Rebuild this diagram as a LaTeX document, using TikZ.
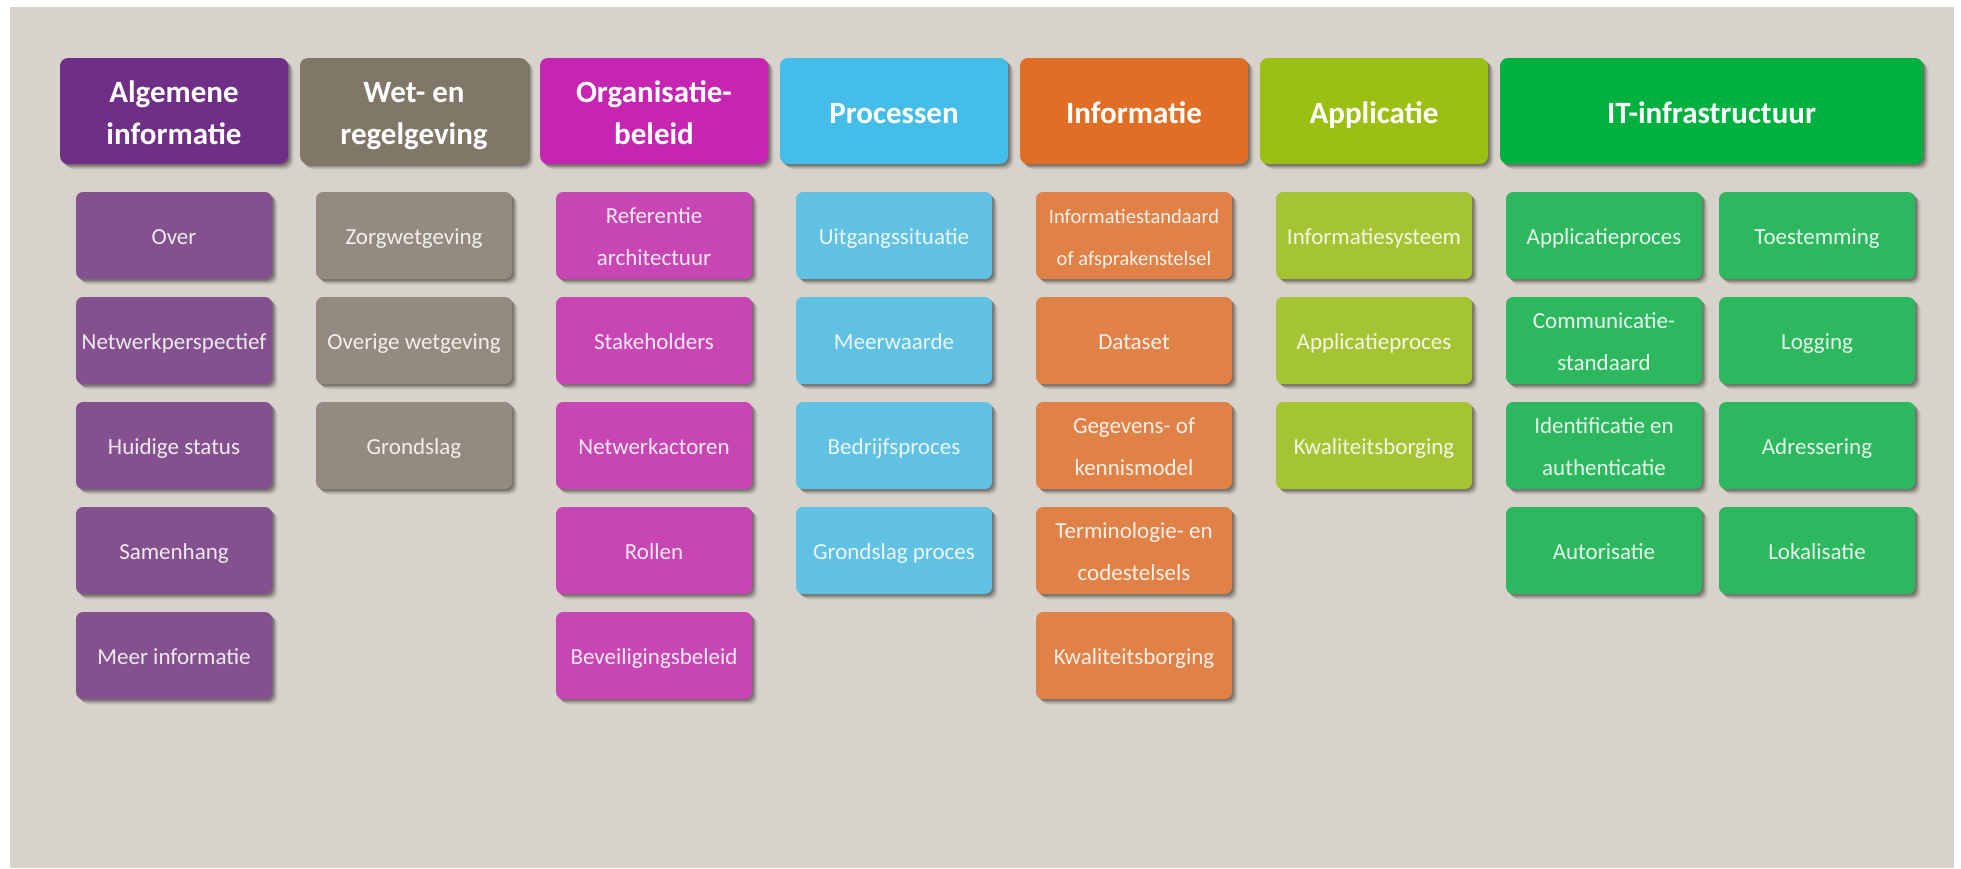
\documentclass[tikz,border=0pt]{standalone}
\usepackage{fontspec}
\setmainfont{Carlito}
\usetikzlibrary{shadows}
\definecolor{bg}{HTML}{D7D2CC}
\definecolor{hA}{HTML}{702F87}\definecolor{sA}{HTML}{84518F}
\definecolor{hB}{HTML}{817769}\definecolor{sB}{HTML}{948A7F}
\definecolor{hC}{HTML}{C625B1}\definecolor{sC}{HTML}{C846B4}
\definecolor{hD}{HTML}{44BEE9}\definecolor{sD}{HTML}{60C1E3}
\definecolor{hE}{HTML}{E06F25}\definecolor{sE}{HTML}{E08247}
\definecolor{hF}{HTML}{9BBF12}\definecolor{sF}{HTML}{A5C434}
\definecolor{hG}{HTML}{00B13F}\definecolor{sG}{HTML}{2DB85F}
\definecolor{shd}{HTML}{3A3530}
\newcommand\substrut{\rule[-6pt]{0pt}{30pt}}
\newcommand\hdrstrut{\rule[-8pt]{0pt}{40pt}}
\begin{document}
\begin{tikzpicture}[x=1pt,y=-1pt,
  softshadow/.style={
    general shadow={shadow xshift=1.5pt,shadow yshift=-1.5pt,fill=shd,opacity=.3},
    general shadow={shadow xshift=3pt,shadow yshift=-3pt,fill=shd,opacity=.28},
    general shadow={shadow xshift=4.5pt,shadow yshift=-4.5pt,fill=shd,opacity=.15},
    general shadow={shadow xshift=6pt,shadow yshift=-5.5pt,fill=shd,opacity=.07}},
  hdr/.style={softshadow,rounded corners=8pt,minimum width=228pt,minimum height=106pt,
    inner sep=0pt,align=center,text=white,font=\fontsize{31}{42}\selectfont\bfseries},
  sub/.style={softshadow,rounded corners=7pt,minimum width=196pt,minimum height=87pt,
    inner sep=0pt,align=center,text=white,text opacity=.88,font=\fontsize{23}{42}\selectfont}]
\useasboundingbox (0,0) rectangle (1961,868);
\fill[white] (0,0) rectangle (1961,868);
\fill[bg] (10,7) rectangle (1954,868);
% headers
\node[hdr,fill=hA] (hA) at (174,111) {\hdrstrut Algemene\\\hdrstrut informatie};
\node[hdr,fill=hB] (hB) at (414,111) {\hdrstrut Wet- en\\\hdrstrut regelgeving};
\node[hdr,fill=hC] (hC) at (654,111) {\hdrstrut Organisatie-\\\hdrstrut beleid};
\node[hdr,fill=hD] (hD) at (894,111) {\hdrstrut Processen};
\node[hdr,fill=hE] (hE) at (1134,111) {\hdrstrut Informatie};
\node[hdr,fill=hF] (hF) at (1374,111) {\hdrstrut Applicatie};
\node[hdr,fill=hG,minimum width=423pt] (hG) at (1711.5,111) {\hdrstrut IT-infrastructuur};
% column A
\node[sub,fill=sA] (a1) at (174,235.5) {\substrut Over};
\node[sub,fill=sA] (a2) at (174,340.5) {\substrut Netwerkperspectief};
\node[sub,fill=sA] (a3) at (174,445.5) {\substrut Huidige status};
\node[sub,fill=sA] (a4) at (174,550.5) {\substrut Samenhang};
\node[sub,fill=sA] (a5) at (174,655.5) {\substrut Meer informatie};
% column B
\node[sub,fill=sB] (b1) at (414,235.5) {\substrut Zorgwetgeving};
\node[sub,fill=sB] (b2) at (414,340.5) {\substrut Overige wetgeving};
\node[sub,fill=sB] (b3) at (414,445.5) {\substrut Grondslag};
% column C
\node[sub,fill=sC] (c1) at (654,235.5) {\substrut Referentie\\\substrut architectuur};
\node[sub,fill=sC] (c2) at (654,340.5) {\substrut Stakeholders};
\node[sub,fill=sC] (c3) at (654,445.5) {\substrut Netwerkactoren};
\node[sub,fill=sC] (c4) at (654,550.5) {\substrut Rollen};
\node[sub,fill=sC] (c5) at (654,655.5) {\substrut Beveiligingsbeleid};
% column D
\node[sub,fill=sD] (d1) at (894,235.5) {\substrut Uitgangssituatie};
\node[sub,fill=sD] (d2) at (894,340.5) {\substrut Meerwaarde};
\node[sub,fill=sD] (d3) at (894,445.5) {\substrut Bedrijfsproces};
\node[sub,fill=sD] (d4) at (894,550.5) {\substrut Grondslag proces};
% column E
\node[sub,fill=sE,font=\fontsize{20.5}{42}\selectfont] (e1) at (1134,235.5) {\substrut Informatiestandaard\\\substrut of afsprakenstelsel};
\node[sub,fill=sE] (e2) at (1134,340.5) {\substrut Dataset};
\node[sub,fill=sE] (e3) at (1134,445.5) {\substrut Gegevens- of\\\substrut kennismodel};
\node[sub,fill=sE] (e4) at (1134,550.5) {\substrut Terminologie- en\\\substrut codestelsels};
\node[sub,fill=sE] (e5) at (1134,655.5) {\substrut Kwaliteitsborging};
% column F
\node[sub,fill=sF] (f1) at (1374,235.5) {\substrut Informatiesysteem};
\node[sub,fill=sF] (f2) at (1374,340.5) {\substrut Applicatieproces};
\node[sub,fill=sF] (f3) at (1374,445.5) {\substrut Kwaliteitsborging};
% column G
\node[sub,fill=sG] (g1) at (1604,235.5) {\substrut Applicatieproces};
\node[sub,fill=sG] (g2) at (1604,340.5) {\substrut Communicatie-\\\substrut standaard};
\node[sub,fill=sG] (g3) at (1604,445.5) {\substrut Identificatie en\\\substrut authenticatie};
\node[sub,fill=sG] (g4) at (1604,550.5) {\substrut Autorisatie};
\node[sub,fill=sG] (g5) at (1817,235.5) {\substrut Toestemming};
\node[sub,fill=sG] (g6) at (1817,340.5) {\substrut Logging};
\node[sub,fill=sG] (g7) at (1817,445.5) {\substrut Adressering};
\node[sub,fill=sG] (g8) at (1817,550.5) {\substrut Lokalisatie};
\end{tikzpicture}
\end{document}
